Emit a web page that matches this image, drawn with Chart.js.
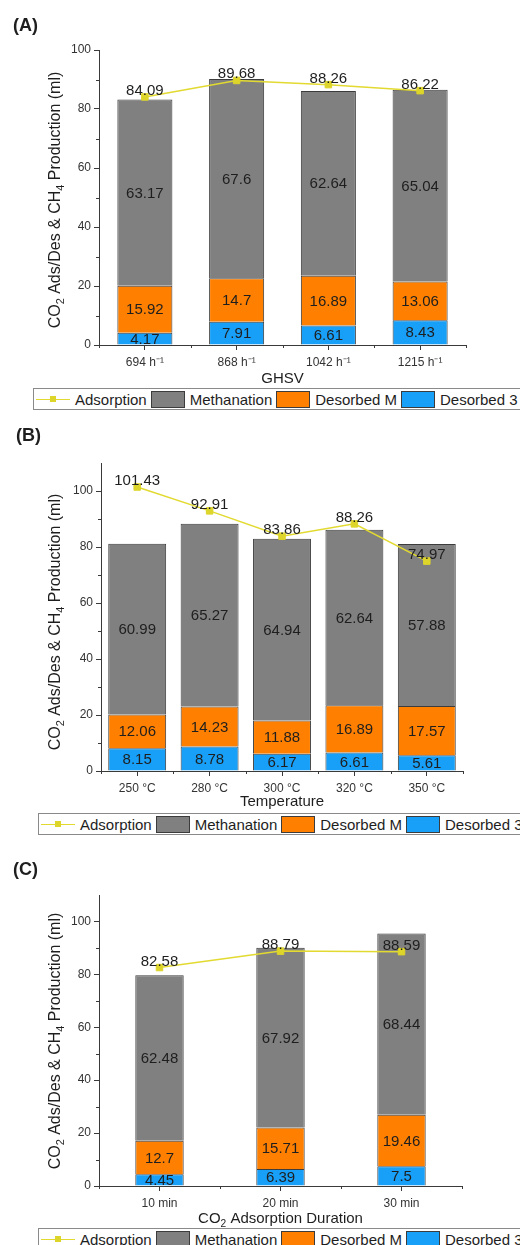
<!DOCTYPE html>
<html>
<head>
<meta charset="utf-8">
<script src="https://cdn.jsdelivr.net/npm/chart.js@4.4.1/dist/chart.umd.min.js"></script>
<style>
  html, body { margin: 0; padding: 0; background: #fff; }
  body { width: 520px; height: 1245px; overflow: hidden; position: relative; }
  canvas { position: absolute; left: 0; display: block; }
  .legend {
    position: absolute; height: 20px; width: 520px;
    border: 1px solid #8a8a8a; background: #fff;
    display: flex; align-items: center; padding-left: 2px;
    font: 15px "Liberation Sans", Arial, sans-serif; color: #1e1e1e;
    white-space: nowrap;
  }
  .legend .sw { width: 34px; height: 17px; box-sizing: border-box; border: 1px solid #3c3c3c; margin-right: 5px; flex: none; }
  .legend .ln { width: 34px; height: 17px; position: relative; margin-right: 5px; flex: none; }
  .legend .ln .bar { position: absolute; left: 0; right: 0; top: 8px; height: 1.5px; }
  .legend .ln .pt { position: absolute; left: 14px; top: 5px; width: 6px; height: 6px; }
  .legend .txt { margin-right: 4px; }
</style>
</head>
<body>
<canvas id="chartA" width="520" height="388" style="top:0px"></canvas>
<div class="legend" id="legendA" style="left:33px; top:388px"></div>
<canvas id="chartB" width="520" height="403" style="top:410px"></canvas>
<div class="legend" id="legendB" style="left:38px; top:813px"></div>
<canvas id="chartC" width="520" height="383" style="top:845px"></canvas>
<div class="legend" id="legendC" style="left:38px; top:1228px"></div>

<script>
// ---- series shared by the three panels ----
const seriesNames = ['Adsorption', 'Methanation', 'Desorbed M', 'Desorbed 3'];
const seriesColors = ['#E2DA30', '#808080', '#FF8000', '#18A0F8'];

// ---- (A) GHSV ----
const ghsvLabels = ['694 h⁻¹', '868 h⁻¹', '1042 h⁻¹', '1215 h⁻¹'];
const ghsvAdsorption = [84.09, 89.68, 88.26, 86.22];
const ghsvMethanation = [63.17, 67.6, 62.64, 65.04];
const ghsvDesorbedM = [15.92, 14.7, 16.89, 13.06];
const ghsvDesorbed3 = [4.17, 7.91, 6.61, 8.43];

// ---- (B) Temperature ----
const tempLabels = ['250 °C', '280 °C', '300 °C', '320 °C', '350 °C'];
const tempAdsorption = [101.43, 92.91, 83.86, 88.26, 74.97];
const tempMethanation = [60.99, 65.27, 64.94, 62.64, 57.88];
const tempDesorbedM = [12.06, 14.23, 11.88, 16.89, 17.57];
const tempDesorbed3 = [8.15, 8.78, 6.17, 6.61, 5.61];

// ---- (C) CO2 adsorption duration ----
const durationLabels = ['10 min', '20 min', '30 min'];
const durationAdsorption = [82.58, 88.79, 88.59];
const durationMethanation = [62.48, 67.92, 68.44];
const durationDesorbedM = [12.7, 15.71, 19.46];
const durationDesorbed3 = [4.45, 6.39, 7.5];

// ---- axis ticks ----
const yMajorTicks = [0, 20, 40, 60, 80, 100];
const yMinorTicks = [10, 30, 50, 70, 90];

// rich-text pieces for titles that need subscripts
const yTitleParts = [['CO'], ['2', 'sub'], [' Ads/Des & CH'], ['4', 'sub'], [' Production (ml)']];

const FONT = '"Liberation Sans", Arial, sans-serif';
const AXIS = '#3a3a3a';
const TEXT = '#1e1e1e';

function richWidth(ctx, parts, fs) {
  let w = 0;
  parts.forEach(p => {
    ctx.font = (p[1] === 'sub' ? fs * 0.68 : fs) + 'px ' + FONT;
    w += ctx.measureText(p[0]).width;
  });
  return w;
}
function drawRich(ctx, parts, fs, cx, baseline) {
  let x = cx - richWidth(ctx, parts, fs) / 2;
  ctx.textAlign = 'left';
  ctx.textBaseline = 'alphabetic';
  parts.forEach(p => {
    const sub = p[1] === 'sub';
    ctx.font = (sub ? fs * 0.68 : fs) + 'px ' + FONT;
    ctx.fillText(p[0], x, baseline + (sub ? fs * 0.28 : 0));
    x += ctx.measureText(p[0]).width;
  });
}

// minor ticks, value labels, panel letter and axis titles
const panelDecor = {
  id: 'panelDecor',
  afterDatasetsDraw(chart) {
    const ctx = chart.ctx;
    ctx.save();
    ctx.fillStyle = TEXT;
    ctx.font = '15px ' + FONT;
    ctx.textAlign = 'center';
    chart.data.datasets.forEach((ds, di) => {
      const meta = chart.getDatasetMeta(di);
      meta.data.forEach((el, i) => {
        const v = String(ds.data[i]);
        if (ds.type === 'line') {
          ctx.textBaseline = 'alphabetic';
          ctx.fillText(v, el.x, el.y - 2);
        } else {
          ctx.textBaseline = 'middle';
          ctx.fillText(v, el.x, (el.y + el.base) / 2 + 1);
        }
      });
    });
    ctx.restore();
  },
  afterDraw(chart, args, opts) {
    const ctx = chart.ctx;
    const a = chart.chartArea;
    const xs = chart.scales.x, ys = chart.scales.y;
    ctx.save();
    ctx.strokeStyle = AXIS;
    ctx.lineWidth = 1;
    ctx.beginPath();
    yMinorTicks.forEach(v => {
      const y = Math.round(ys.getPixelForValue(v)) + 0.5;
      ctx.moveTo(a.left - 3, y); ctx.lineTo(a.left, y);
    });
    const n = chart.data.labels.length;
    for (let i = 0; i <= n; i++) {
      const x = Math.round(xs.getPixelForValue(i - 0.5)) + 0.5;
      ctx.moveTo(x, a.bottom); ctx.lineTo(x, a.bottom + 3);
    }
    ctx.stroke();

    ctx.fillStyle = TEXT;
    // panel letter
    ctx.font = 'bold 18px ' + FONT;
    ctx.textAlign = 'left';
    ctx.textBaseline = 'alphabetic';
    ctx.fillText(opts.letter, opts.letterX, opts.letterY);

    // x title
    drawRich(ctx, opts.xTitle, 15, (a.left + a.right) / 2, a.bottom + opts.xTitleOffset);

    // y title, rotated
    ctx.save();
    ctx.translate(opts.yTitleX, opts.yTitleY);
    ctx.rotate(-Math.PI / 2);
    drawRich(ctx, yTitleParts, 16, 0, 0);
    ctx.restore();
    ctx.restore();
  }
};

function makePanel(cfg) {
  const canvas = document.getElementById(cfg.id);
  const H = canvas.height;
  const area = cfg.area;
  const datasets = [
    {
      type: 'line', label: seriesNames[0], data: cfg.ads, order: 0, stack: 'ads', clip: false,
      borderColor: seriesColors[0], borderWidth: 1.5, backgroundColor: seriesColors[0],
      pointStyle: 'rect', pointRadius: 4.6, pointBorderWidth: 1,
      pointBackgroundColor: '#DED52A', pointBorderColor: '#DED52A'
    },
    { label: seriesNames[3], data: cfg.d3, backgroundColor: seriesColors[3], stack: 'bars', order: 1 },
    { label: seriesNames[2], data: cfg.dm, backgroundColor: seriesColors[2], stack: 'bars', order: 1 },
    { label: seriesNames[1], data: cfg.meth, backgroundColor: seriesColors[1], stack: 'bars', order: 1 }
  ];
  const tickFont = { family: FONT, size: 12 };
  new Chart(canvas, {
    type: 'bar',
    data: { labels: cfg.labels, datasets },
    options: {
      responsive: false, animation: false, devicePixelRatio: 1,
      layout: { padding: { top: area.top, right: canvas.width - area.right, left: 0, bottom: 0 } },
      datasets: { bar: { barPercentage: cfg.barPct, categoryPercentage: 1, borderWidth: 1, borderColor: '#3c3c3c' } },
      plugins: {
        legend: { display: false }, tooltip: { enabled: false },
        panelDecor: cfg.decor
      },
      scales: {
        x: {
          stacked: true,
          afterFit: s => { s.height = H - area.bottom; },
          grid: { display: true, drawOnChartArea: false, drawTicks: true, tickLength: 5, offset: false, color: AXIS },
          border: { display: true, color: AXIS, width: 1 },
          ticks: { font: tickFont, color: '#333', padding: 5, maxRotation: 0 }
        },
        y: {
          stacked: true, min: 0, max: cfg.yMax,
          afterFit: s => { s.width = area.left; },
          afterBuildTicks: s => { s.ticks = yMajorTicks.map(v => ({ value: v })); },
          grid: { display: true, drawOnChartArea: false, drawTicks: true, tickLength: 5, color: AXIS },
          border: { display: true, color: AXIS, width: 1 },
          ticks: { font: tickFont, color: '#333', padding: 3 }
        }
      }
    },
    plugins: [panelDecor]
  });
}

function buildLegend(id) {
  const box = document.getElementById(id);
  seriesNames.forEach((name, i) => {
    let sw;
    if (i === 0) {
      sw = document.createElement('span');
      sw.className = 'ln';
      const b = document.createElement('span'); b.className = 'bar'; b.style.background = seriesColors[0];
      const p = document.createElement('span'); p.className = 'pt'; p.style.background = '#DED52A';
      sw.appendChild(b); sw.appendChild(p);
    } else {
      sw = document.createElement('span');
      sw.className = 'sw';
      sw.style.background = seriesColors[i];
    }
    const t = document.createElement('span');
    t.className = 'txt';
    t.textContent = name;
    box.appendChild(sw); box.appendChild(t);
  });
}

makePanel({
  id: 'chartA', labels: ghsvLabels, ads: ghsvAdsorption, meth: ghsvMethanation, dm: ghsvDesorbedM, d3: ghsvDesorbed3,
  yMax: 100, barPct: 0.6,
  area: { left: 99, right: 466, top: 50, bottom: 345 },
  decor: { letter: '(A)', letterX: 13, letterY: 31, xTitle: [['GHSV']], xTitleOffset: 38, yTitleX: 60, yTitleY: 200 }
});
makePanel({
  id: 'chartB', labels: tempLabels, ads: tempAdsorption, meth: tempMethanation, dm: tempDesorbedM, d3: tempDesorbed3,
  yMax: 110, barPct: 0.8,
  area: { left: 101, right: 463, top: 53, bottom: 361 },
  decor: { letter: '(B)', letterX: 16, letterY: 31, xTitle: [['Temperature']], xTitleOffset: 35, yTitleX: 60, yTitleY: 212 }
});
makePanel({
  id: 'chartC', labels: durationLabels, ads: durationAdsorption, meth: durationMethanation, dm: durationDesorbedM, d3: durationDesorbed3,
  yMax: 110, barPct: 0.4,
  area: { left: 99, right: 462, top: 50, bottom: 341 },
  decor: { letter: '(C)', letterX: 13, letterY: 30, xTitle: [['CO'], ['2', 'sub'], [' Adsorption Duration']], xTitleOffset: 37, yTitleX: 60, yTitleY: 196 }
});

buildLegend('legendA');
buildLegend('legendB');
buildLegend('legendC');
</script>
</body>
</html>
